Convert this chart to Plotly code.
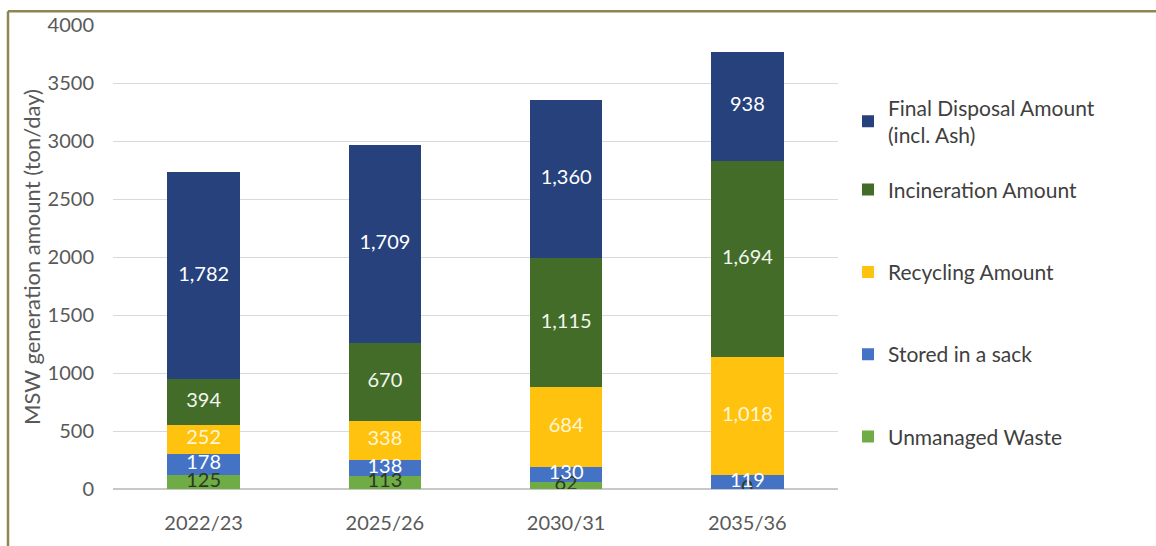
import numpy as np
import plotly.graph_objects as go

categories = ["2022/23", "2025/26", "2030/31", "2035/36"]
unmanaged = [125, 113, 62, 0]
stored = [178, 138, 130, 119]
recycling = [252, 338, 684, 1018]
incineration = [394, 670, 1115, 1694]
final_disposal = [1782, 1709, 1360, 938]

series_names = ["Unmanaged Waste", "Stored in a sack", "Recycling Amount",
                "Incineration Amount", "Final Disposal Amount<br>(incl. Ash)"]
series_values = [unmanaged, stored, recycling, incineration, final_disposal]
colors = ["#6FAC46", "#4472C4", "#FFC20E", "#436C29", "#26417C"]
label_colors = ["#2B3A1F", "#FFFFFF", "#FFF6D5", "#F2F6EE", "#FFFFFF"]
legends = ["legend", "legend", "legend", "legend", "legend2"]

FONT = "Lato, 'Open Sans', sans-serif"

fig = go.Figure()
for i, (name, vals, col, lg) in enumerate(zip(series_names, series_values, colors, legends)):
    fig.add_trace(go.Bar(
        x=categories, y=vals, name=name,
        marker=dict(color=col, line=dict(width=0)),
        legendgroup=f"g{i}", legendrank=100 - i, legend=lg,
        hoverinfo="y+name",
    ))

# data labels centred in each segment
cum = np.zeros(len(categories))
for vals, tc in zip(series_values, label_colors):
    v = np.array(vals, dtype=float)
    mids = cum + v / 2
    fig.add_trace(go.Scatter(
        x=categories, y=mids, mode="text",
        text=[f"{int(a):,}" for a in v],
        textfont=dict(family=FONT, size=20, color=tc),
        showlegend=False, hoverinfo="skip",
    ))
    cum = cum + v

L, R, T, B = 113, 838, 23, 492
W, H = 1156, 546
def px(x):
    return (x - L) / (R - L)
def py(y):
    return (B - y) / (B - T)

border = "#8E8553"
fig.add_shape(type="line", xref="paper", yref="paper",
              x0=px(8), x1=px(W + 5), y0=py(9), y1=py(9),
              line=dict(color=border, width=2.5))
fig.add_shape(type="line", xref="paper", yref="paper",
              x0=px(8), x1=px(8), y0=py(9), y1=py(H + 5),
              line=dict(color=border, width=2.5))

legfont = dict(family=FONT, size=21, color="#404040")
fig.update_layout(
    width=W, height=H,
    margin=dict(l=L, r=W - R, t=T, b=H - B),
    barmode="stack", bargap=0.6,
    plot_bgcolor="white", paper_bgcolor="white",
    font=dict(family=FONT, size=18, color="#595959"),
    legend=dict(
        x=px(848), y=py(169), xanchor="left", yanchor="top",
        font=legfont, tracegroupgap=52, itemwidth=30,
        traceorder="reversed+grouped", bgcolor="rgba(0,0,0,0)",
    ),
    legend2=dict(
        x=px(848), y=py(86), xanchor="left", yanchor="top",
        font=legfont, itemwidth=30, bgcolor="rgba(0,0,0,0)",
    ),
    xaxis=dict(showgrid=False, showline=False, ticks="",
               tickfont=dict(size=20, color="#595959"), ticklabelstandoff=20),
    yaxis=dict(range=[0, 4000], dtick=500, showgrid=True, gridcolor="#D9D9D9",
               gridwidth=1, zeroline=True, zerolinecolor="#C8C8C8", zerolinewidth=1.5,
               showline=False, ticks="", ticklabelstandoff=18,
               tickfont=dict(size=20, color="#595959"),
               title=dict(text="MSW generation amount (ton/day)",
                          font=dict(size=22, color="#595959"), standoff=0)),
)

fig.write_html("out.html")
